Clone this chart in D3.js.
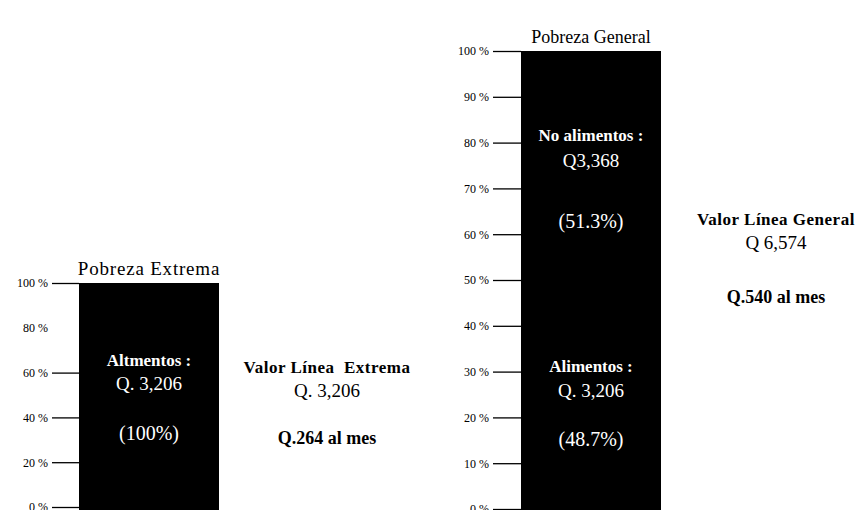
<!DOCTYPE html>
<html>
<head>
<meta charset="utf-8">
<script src="https://cdn.jsdelivr.net/npm/d3@7"></script>
<style>
  body { margin: 0; background: #fff; }
  svg text { font-family: "Liberation Serif", "DejaVu Serif", serif; }
</style>
</head>
<body>
<div id="chart"></div>
<script>
// data
var extremaSegments = ['Altmentos :'];
var extremaValues = [100];
var extremaAmounts = ['Q. 3,206'];
var extremaTicks = [0, 20, 40, 60, 80, 100];

var generalSegments = ['Alimentos :', 'No alimentos :'];
var generalValues = [48.7, 51.3];
var generalAmounts = ['Q. 3,206', 'Q3,368'];
var generalTicks = [0, 10, 20, 30, 40, 50, 60, 70, 80, 90, 100];

var sideExtrema = ['Valor Línea  Extrema', 'Q. 3,206', 'Q.264 al mes'];
var sideGeneral = ['Valor Línea General', 'Q 6,574', 'Q.540 al mes'];

var width = 865, height = 510;

var svg = d3.select('#chart').append('svg')
    .attr('width', width)
    .attr('height', height)
    .attr('viewBox', [0, 0, width, height]);

function drawPanel(opt) {
    var y = d3.scaleLinear().domain([0, 100]).range([opt.bottom, opt.top]);
    var g = svg.append('g');

    // axis
    var axis = d3.axisLeft(y)
        .tickValues(opt.ticks)
        .tickSize(opt.tickLen)
        .tickPadding(4)
        .tickFormat(function (d) { return d + ' %'; });
    var ax = g.append('g')
        .attr('transform', 'translate(' + opt.barX + ',0)')
        .call(axis);
    ax.select('.domain').remove();
    ax.selectAll('line').attr('stroke', '#000').attr('stroke-width', 1.3);
    ax.selectAll('.tick').filter(function (d) { return opt.hide.indexOf(d) >= 0; })
        .select('line').remove();
    ax.selectAll('text')
        .attr('font-size', '12px')
        .attr('fill', '#000');

    // stacked bar
    var cum = 0;
    var stack = opt.values.map(function (v, i) {
        var s = { lo: cum, hi: cum + v, v: v, name: opt.segments[i], amount: opt.amounts[i] };
        cum += v;
        return s;
    });
    g.selectAll('rect.seg').data(stack).enter().append('rect')
        .attr('class', 'seg')
        .attr('x', opt.barX)
        .attr('width', opt.barW)
        .attr('y', function (d) { return y(d.hi); })
        .attr('height', function (d) { return (d.lo === 0 ? y(d.lo) + 6 : y(d.lo) + 1) - y(d.hi); })
        .attr('shape-rendering', 'crispEdges')
        .attr('fill', '#000');

    var cx = opt.barX + opt.barW / 2;
    stack.forEach(function (d, i) {
        var base = y(d.hi) + opt.labelOffsets[i];
        g.append('text').attr('x', cx).attr('y', base)
            .attr('text-anchor', 'middle').attr('fill', '#fff')
            .attr('font-size', '17px').attr('font-weight', 'bold')
            .text(d.name);
        g.append('text').attr('x', cx).attr('y', base + opt.amtGap[i])
            .attr('text-anchor', 'middle').attr('fill', '#fff')
            .attr('font-size', '19px')
            .text(d.amount);
        g.append('text').attr('x', cx).attr('y', base + opt.pctGap[i])
            .attr('text-anchor', 'middle').attr('fill', '#fff')
            .attr('font-size', '20px')
            .text('(' + d.v + '%)');
    });

    // title
    g.append('text').attr('x', cx).attr('y', y(100) - 8)
        .attr('text-anchor', 'middle').attr('font-size', opt.titleSize)
        .attr('letter-spacing', opt.titleSpacing)
        .text(opt.title);

    // side notes
    var sg = g.append('g').attr('text-anchor', 'middle');
    sg.append('text').attr('x', opt.sideX).attr('y', opt.sideY)
        .attr('font-size', '17px').attr('font-weight', 'bold')
        .attr('letter-spacing', '0.5px')
        .style('white-space', 'pre')
        .text(opt.side[0]);
    sg.append('text').attr('x', opt.sideX).attr('y', opt.sideY + 24)
        .attr('font-size', '19px')
        .text(opt.side[1]);
    sg.append('text').attr('x', opt.sideX).attr('y', opt.sideY + opt.sideGap)
        .attr('font-size', '18px').attr('font-weight', 'bold')
        .text(opt.side[2]);
}

drawPanel({
    title: 'Pobreza Extrema', titleSize: '19px', titleSpacing: '0.8px',
    top: 283, bottom: 507, barX: 79, barW: 140, tickLen: 27,
    ticks: extremaTicks, hide: [80],
    segments: extremaSegments, values: extremaValues, amounts: extremaAmounts,
    labelOffsets: [83], amtGap: [24], pctGap: [74],
    side: sideExtrema, sideX: 327, sideY: 373, sideGap: 71
});

drawPanel({
    title: 'Pobreza General', titleSize: '18px', titleSpacing: '0px',
    top: 51, bottom: 509, barX: 521, barW: 140, tickLen: 28,
    ticks: generalTicks, hide: [],
    segments: generalSegments, values: generalValues, amounts: generalAmounts,
    labelOffsets: [86, 90], amtGap: [25, 26], pctGap: [74, 87],
    side: sideGeneral, sideX: 776, sideY: 225, sideGap: 78
});
</script>
</body>
</html>
